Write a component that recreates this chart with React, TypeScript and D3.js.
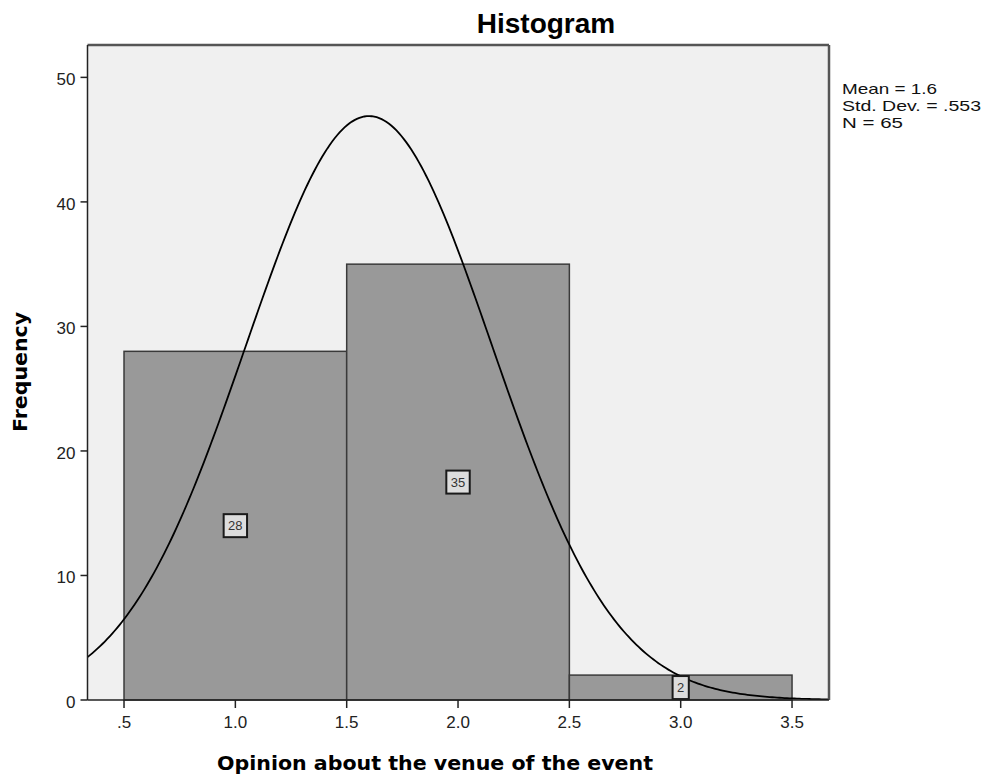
import React from "react";
import * as d3 from "d3";

const binStarts = [0.5, 1.5, 2.5];
const binEnds = [1.5, 2.5, 3.5];
const binMids = [1.0, 2.0, 3.0];
const frequencies = [28, 35, 2];
const xTickValues = [0.5, 1.0, 1.5, 2.0, 2.5, 3.0, 3.5];
const xTickLabels = [".5", "1.0", "1.5", "2.0", "2.5", "3.0", "3.5"];
const yTickValues = [0, 10, 20, 30, 40, 50];
const statsLines = ["Mean = 1.6", "Std. Dev. = .553", "N = 65"];
const statsWidths = [95, 139, 61];
const meanValue = 1.6;
const sdValue = 0.553;
const nValue = 65;
const binWidth = 1;

const W = 985;
const H = 774;
const plot = { left: 87.5, top: 45, right: 829, bottom: 700 };

export default function App() {
  const x = d3.scaleLinear().domain([0.336, 3.666]).range([plot.left, plot.right]);
  const y = d3.scaleLinear().domain([0, 52.6]).range([plot.bottom, plot.top]);

  const curvePts: [number, number][] = [];
  const [x0, x1] = x.domain();
  for (let i = 0; i <= 300; i++) {
    const v = x0 + ((x1 - x0) * i) / 300;
    const z = (v - meanValue) / sdValue;
    const f = (nValue * binWidth) / (sdValue * Math.sqrt(2 * Math.PI)) * Math.exp(-0.5 * z * z);
    curvePts.push([v, f]);
  }
  const line = d3
    .line<[number, number]>()
    .x((d) => x(d[0]))
    .y((d) => y(d[1]))
    .curve(d3.curveLinear);

  const font = "'Liberation Sans', Arial, sans-serif";

  return (
    <svg width={W} height={H} style={{ position: "absolute", left: 0, top: 0 }}>
      <rect x={0} y={0} width={W} height={H} fill="#ffffff" />
      <defs>
        <clipPath id="plotclip">
          <rect x={plot.left} y={plot.top} width={plot.right - plot.left} height={plot.bottom - plot.top} />
        </clipPath>
      </defs>
      <rect
        x={plot.left}
        y={plot.top}
        width={plot.right - plot.left}
        height={plot.bottom - plot.top}
        fill="#f0f0f0"
      />
      {frequencies.map((f, i) => (
        <rect
          key={i}
          x={x(binStarts[i])}
          y={y(f)}
          width={x(binEnds[i]) - x(binStarts[i])}
          height={y(0) - y(f)}
          fill="#999999"
          stroke="#3a3a3a"
          strokeWidth={1.5}
        />
      ))}
      <path d={line(curvePts) || ""} fill="none" stroke="#000" strokeWidth={1.8} clipPath="url(#plotclip)" />
      {frequencies.map((f, i) => {
        const label = String(f);
        const tw = label.length * 7.2;
        const bw = tw + 9;
        const bh = 23;
        const cx = x(binMids[i]);
        const cy = y(f / 2);
        return (
          <g key={"lab" + i}>
            <rect x={cx - bw / 2} y={cy - bh / 2} width={bw} height={bh} fill="#dddddd" stroke="#1a1a1a" strokeWidth={2} />
            <text x={cx} y={cy + 4.5} textAnchor="middle" fontFamily={font} fontSize={13} fill="#333">
              {label}
            </text>
          </g>
        );
      })}
      {/* frame */}
      <line x1={plot.left} x2={plot.right} y1={plot.top} y2={plot.top} stroke="#555" strokeWidth={2.5} />
      <line x1={plot.right} x2={plot.right} y1={plot.top} y2={plot.bottom} stroke="#555" strokeWidth={2.5} />
      <line x1={plot.left} x2={plot.left} y1={plot.top} y2={plot.bottom} stroke="#222" strokeWidth={1.5} />
      <line x1={plot.left} x2={plot.right} y1={plot.bottom} y2={plot.bottom} stroke="#222" strokeWidth={1.5} />
      {/* y ticks */}
      {yTickValues.map((v) => (
        <g key={"yt" + v}>
          <line x1={plot.left - 7} x2={plot.left} y1={y(v)} y2={y(v)} stroke="#222" strokeWidth={1.5} />
          <text x={plot.left - 12} y={y(v) + 8} textAnchor="end" fontFamily={font} fontSize={17} fill="#222">
            {v}
          </text>
        </g>
      ))}
      {/* x ticks */}
      {xTickValues.map((v, i) => (
        <g key={"xt" + v}>
          <line x1={x(v)} x2={x(v)} y1={plot.bottom} y2={plot.bottom + 8} stroke="#222" strokeWidth={1.5} />
          <text x={x(v)} y={plot.bottom + 28} textAnchor="middle" fontFamily={font} fontSize={17} fill="#222">
            {xTickLabels[i]}
          </text>
        </g>
      ))}
      {/* stats */}
      {statsLines.map((s, i) => (
        <text
          key={s}
          x={842}
          y={94 + i * 17}
          fontFamily={font}
          fontSize={15}
          textLength={statsWidths[i]}
          lengthAdjust="spacingAndGlyphs"
          fill="#111"
        >
          {s}
        </text>
      ))}
      {/* title */}
      <text
        x={546}
        y={33}
        textAnchor="middle"
        fontFamily={font}
        fontWeight="bold"
        fontSize={28}
        fill="#000"
      >
        Histogram
      </text>
      {/* x axis label */}
      <text
        x={435}
        y={770}
        textAnchor="middle"
        fontFamily="'DejaVu Sans', Verdana, sans-serif"
        fontWeight="bold"
        fontSize={20}
        textLength={436}
        lengthAdjust="spacingAndGlyphs"
        fill="#000"
      >
        Opinion about the venue of the event
      </text>
      {/* y axis label */}
      <text
        transform={`translate(27, 372) rotate(-90)`}
        textAnchor="middle"
        fontFamily="'DejaVu Sans', Verdana, sans-serif"
        fontWeight="bold"
        fontSize={20}
        textLength={120}
        lengthAdjust="spacingAndGlyphs"
        fill="#000"
      >
        Frequency
      </text>
    </svg>
  );
}
